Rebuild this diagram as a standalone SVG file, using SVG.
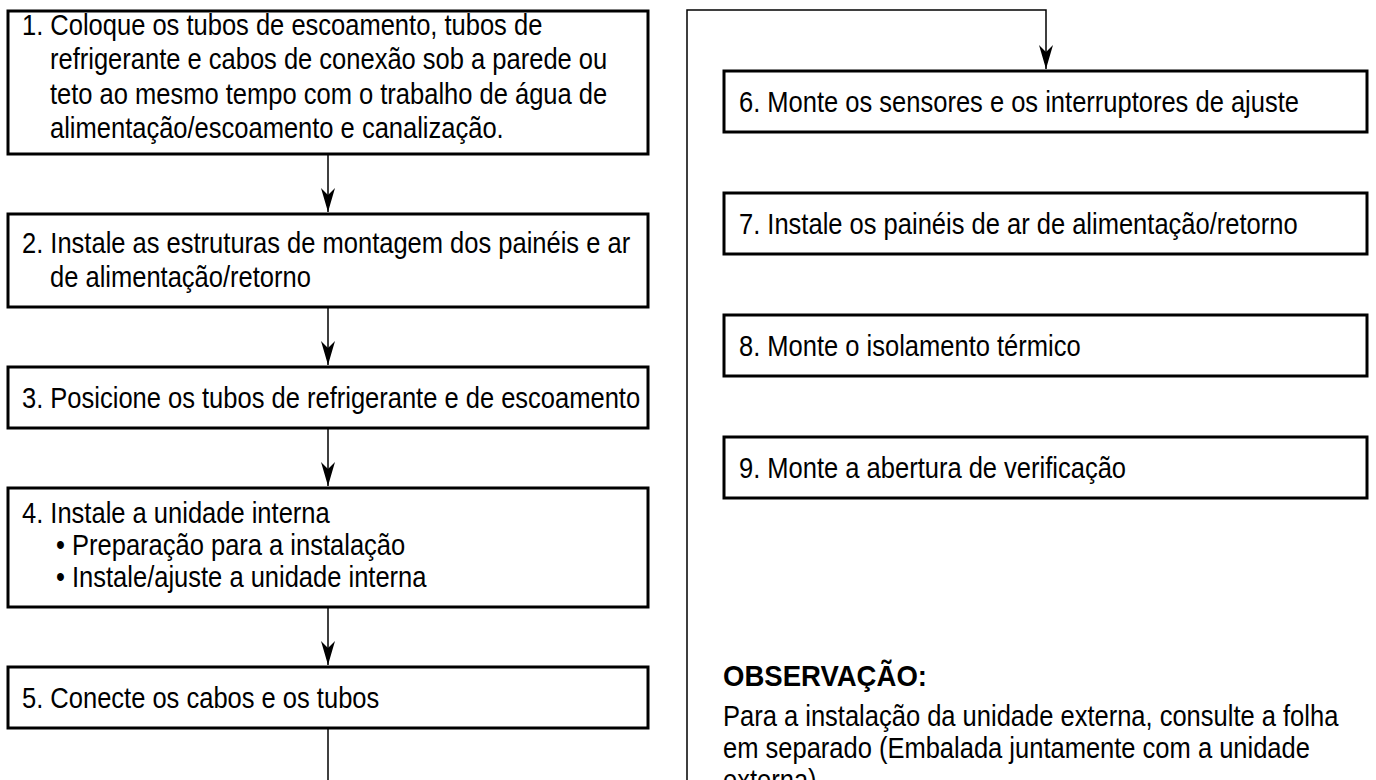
<svg xmlns="http://www.w3.org/2000/svg" width="1376" height="780" viewBox="0 0 1376 780">
<style>
.box{fill:#fff;stroke:#000;stroke-width:3}
.t{font-family:"Liberation Sans",Arial,sans-serif;font-size:29px;fill:#000}
.b{font-family:"Liberation Sans",Arial,sans-serif;font-size:29px;font-weight:bold;fill:#000}
.c{fill:none;stroke:#000;stroke-width:1.5}
</style>
<defs>
<marker id="ah" viewBox="-25 -8 26 16" markerWidth="26" markerHeight="16" refX="0" refY="0" orient="auto" markerUnits="userSpaceOnUse">
<path d="M0,0 L-24,-7 L-17,0 L-24,7 Z" fill="#000"/>
</marker>
</defs>
<rect width="1376" height="780" fill="#fff"/>
<g id="connectors">
<line class="c" x1="328" y1="155" x2="328" y2="212" marker-end="url(#ah)"/>
<line class="c" x1="328" y1="308" x2="328" y2="365" marker-end="url(#ah)"/>
<line class="c" x1="328" y1="429" x2="328" y2="486" marker-end="url(#ah)"/>
<line class="c" x1="328" y1="608" x2="328" y2="665" marker-end="url(#ah)"/>
<line class="c" x1="328" y1="729" x2="328" y2="782"/>
<path class="c" d="M687,782 V10 H1046 V69" marker-end="url(#ah)"/>
</g>
<g id="n1">
<rect class="box" x="8" y="11" width="640" height="143"/>
<text class="t" transform="translate(22,35) scale(0.88,1)">1. Coloque os tubos de escoamento, tubos de</text>
<text class="t" transform="translate(50,69) scale(0.88,1)">refrigerante e cabos de conexão sob a parede ou</text>
<text class="t" transform="translate(50,104) scale(0.88,1)">teto ao mesmo tempo com o trabalho de água de</text>
<text class="t" transform="translate(50,138) scale(0.88,1)">alimentação/escoamento e canalização.</text>
</g>
<g id="n2">
<rect class="box" x="8" y="214" width="640" height="93"/>
<text class="t" transform="translate(22,253) scale(0.88,1)">2. Instale as estruturas de montagem dos painéis e ar</text>
<text class="t" transform="translate(50,287) scale(0.88,1)">de alimentação/retorno</text>
</g>
<g id="n3">
<rect class="box" x="8" y="367" width="640" height="61"/>
<text class="t" transform="translate(22,408) scale(0.88,1)">3. Posicione os tubos de refrigerante e de escoamento</text>
</g>
<g id="n4">
<rect class="box" x="8" y="488" width="640" height="119"/>
<text class="t" transform="translate(22,523) scale(0.88,1)">4. Instale a unidade interna</text>
<text class="t" transform="translate(56,555) scale(0.88,1)">• Preparação para a instalação</text>
<text class="t" transform="translate(56,587) scale(0.88,1)">• Instale/ajuste a unidade interna</text>
</g>
<g id="n5">
<rect class="box" x="8" y="667" width="640" height="61"/>
<text class="t" transform="translate(22,708) scale(0.88,1)">5. Conecte os cabos e os tubos</text>
</g>
<g id="n6">
<rect class="box" x="724" y="71" width="643" height="61"/>
<text class="t" transform="translate(739,112) scale(0.88,1)">6. Monte os sensores e os interruptores de ajuste</text>
</g>
<g id="n7">
<rect class="box" x="724" y="193" width="643" height="61"/>
<text class="t" transform="translate(739,234) scale(0.88,1)">7. Instale os painéis de ar de alimentação/retorno</text>
</g>
<g id="n8">
<rect class="box" x="724" y="315" width="643" height="61"/>
<text class="t" transform="translate(739,356) scale(0.88,1)">8. Monte o isolamento térmico</text>
</g>
<g id="n9">
<rect class="box" x="724" y="437" width="643" height="61"/>
<text class="t" transform="translate(739,478) scale(0.88,1)">9. Monte a abertura de verificação</text>
</g>
<g id="note">
<text class="b" transform="translate(723,686) scale(0.95,1)">OBSERVAÇÃO:</text>
<text class="t" transform="translate(723,726) scale(0.88,1)">Para a instalação da unidade externa, consulte a folha</text>
<text class="t" transform="translate(723,758) scale(0.88,1)">em separado (Embalada juntamente com a unidade</text>
<text class="t" transform="translate(723,790) scale(0.88,1)">externa)</text>
</g>
</svg>
